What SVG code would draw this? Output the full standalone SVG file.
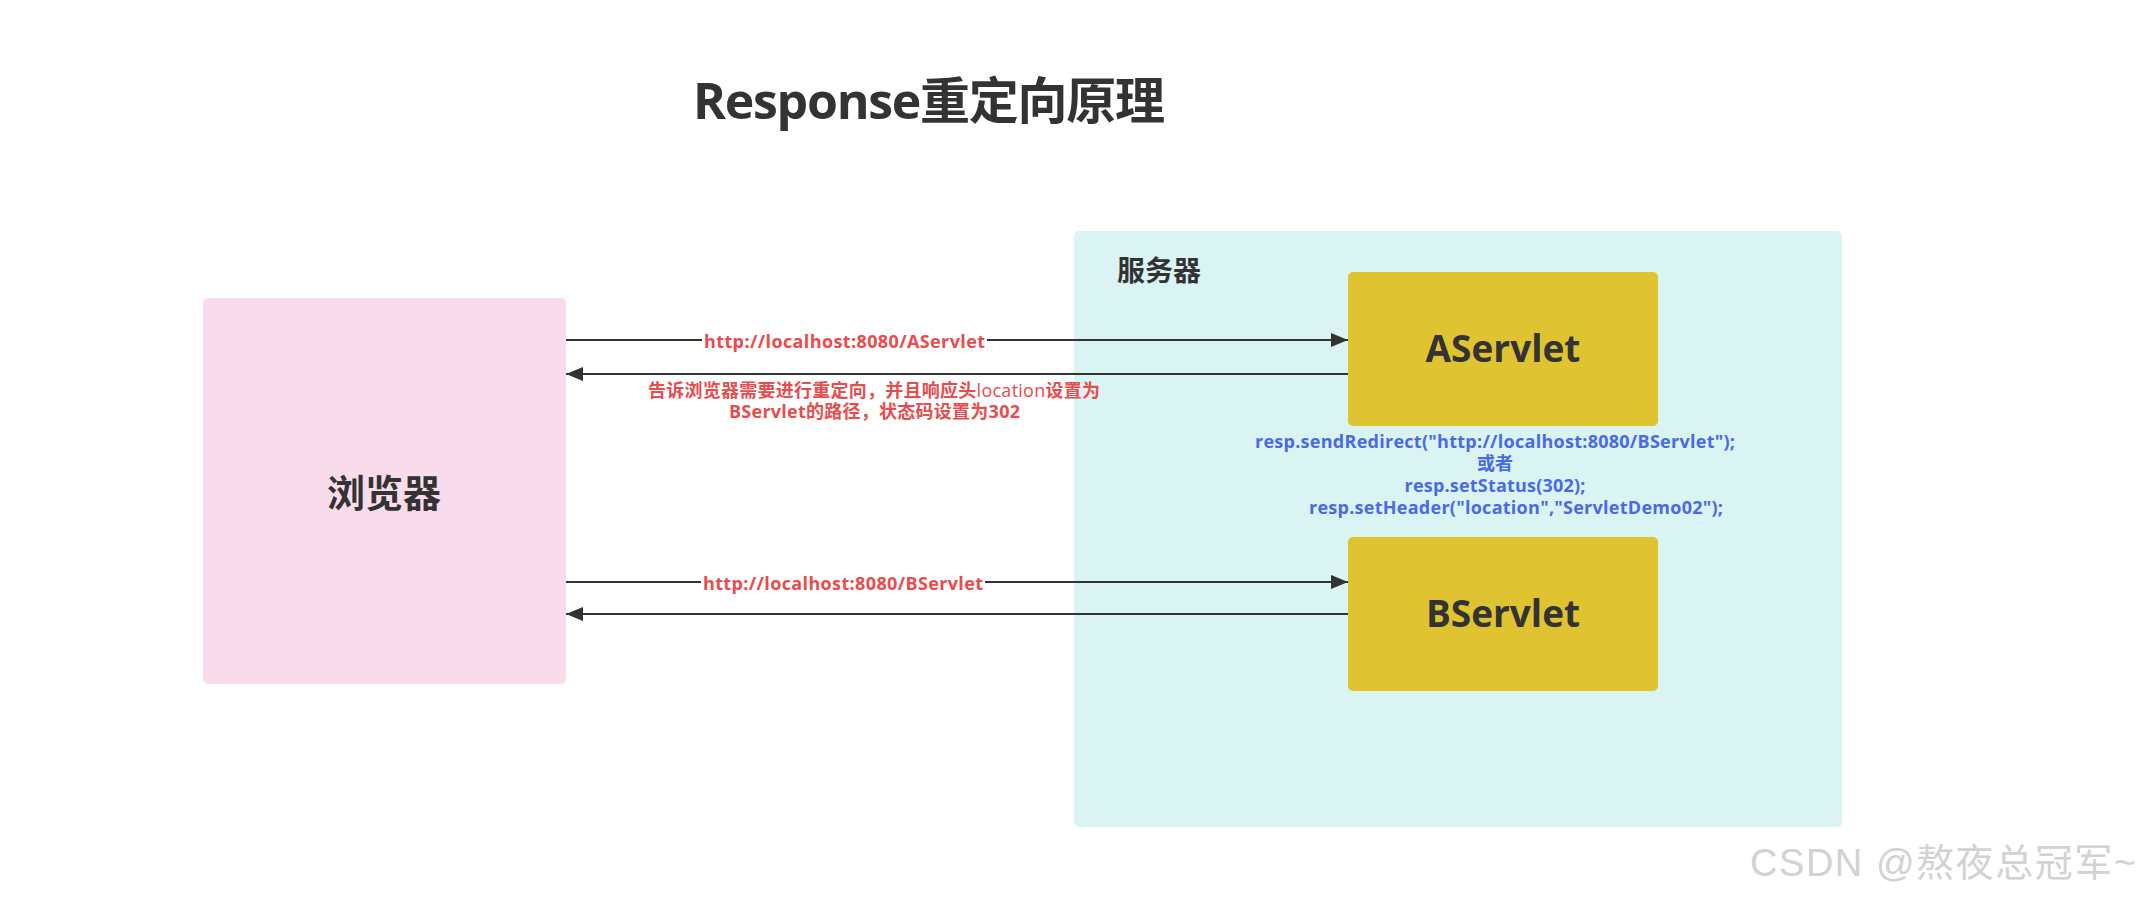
<svg xmlns="http://www.w3.org/2000/svg" width="2142" height="907" viewBox="0 0 2142 907">
  <style>
    .dark { fill: #333333; font-family: "Open Sans", "Noto Sans", "Noto Sans CJK SC", sans-serif; font-weight: bold; }
    .red { fill: #e84c4c; font-family: "Open Sans", "Noto Sans", "Noto Sans CJK SC", sans-serif; font-weight: bold; font-size: 18px; }
    .blue { fill: #4a69e8; font-family: "Open Sans", "Noto Sans", "Noto Sans CJK SC", sans-serif; font-weight: bold; font-size: 18px; }
    .conn { stroke: #333333; stroke-width: 2; fill: none; }
  </style>
  <defs>
    <marker id="arrow" viewBox="0 0 17 14" refX="17" refY="7" markerWidth="17" markerHeight="14" markerUnits="userSpaceOnUse" orient="auto">
      <path d="M0,0 L17,7 L0,14 Z" fill="#333333"/>
    </marker>
  </defs>
  <rect width="2142" height="907" fill="#ffffff"/>

  <g id="title">
    <text class="dark" x="929" y="119" font-size="50" text-anchor="middle" textLength="472">Response重定向原理</text>
  </g>

  <g id="server">
    <rect x="1074" y="231" width="768" height="596" rx="5" fill="#daf4f4"/>
    <text class="dark" x="1117" y="281" font-size="28">服务器</text>
  </g>

  <g id="browser">
    <rect x="203" y="298" width="363" height="386" rx="5" fill="#f9dceb"/>
    <text class="dark" x="384" y="507" font-size="38" text-anchor="middle">浏览器</text>
  </g>

  <g id="aservlet">
    <rect x="1348" y="272" width="310" height="154" rx="5" fill="#dfc331"/>
    <text class="dark" x="1503" y="362" font-size="37" text-anchor="middle">AServlet</text>
  </g>

  <g id="bservlet">
    <rect x="1348" y="537" width="310" height="154" rx="5" fill="#dfc331"/>
    <text class="dark" x="1503" y="627" font-size="37" text-anchor="middle">BServlet</text>
  </g>

  <g id="connectors">
    <line class="conn" x1="566" y1="340" x2="1348" y2="340" marker-end="url(#arrow)"/>
    <rect x="702" y="330" width="285" height="21" fill="#ffffff"/>
    <text class="red" x="844.5" y="348" text-anchor="middle" textLength="281">http://localhost:8080/AServlet</text>

    <line class="conn" x1="1348" y1="374" x2="566" y2="374" marker-end="url(#arrow)"/>
    <text class="red" x="874" y="397" text-anchor="middle" textLength="452">告诉浏览器需要进行重定向，并且响应头<tspan font-weight="normal">location</tspan>设置为</text>
    <text class="red" x="874.5" y="418" text-anchor="middle" textLength="291">BServlet的路径，状态码设置为302</text>

    <line class="conn" x1="566" y1="582" x2="1348" y2="582" marker-end="url(#arrow)"/>
    <rect x="701" y="572" width="284" height="21" fill="#ffffff"/>
    <text class="red" x="843" y="590" text-anchor="middle" textLength="280">http://localhost:8080/BServlet</text>

    <line class="conn" x1="1348" y1="614" x2="566" y2="614" marker-end="url(#arrow)"/>
  </g>

  <g id="code-note">
    <text class="blue" x="1495" y="448" text-anchor="middle" textLength="480">resp.sendRedirect("http://localhost:8080/BServlet");</text>
    <text class="blue" x="1495" y="470" text-anchor="middle">或者</text>
    <text class="blue" x="1495" y="492" text-anchor="middle" textLength="181">resp.setStatus(302);</text>
    <text class="blue" x="1516" y="514" text-anchor="middle" textLength="414">resp.setHeader("location","ServletDemo02");</text>
  </g>

  <g id="watermark">
    <text x="1750" y="876" font-family="Liberation Sans, Noto Sans CJK SC, sans-serif" font-size="38" fill="#d2d2d2" textLength="386">CSDN @熬夜总冠军~</text>
  </g>
</svg>
